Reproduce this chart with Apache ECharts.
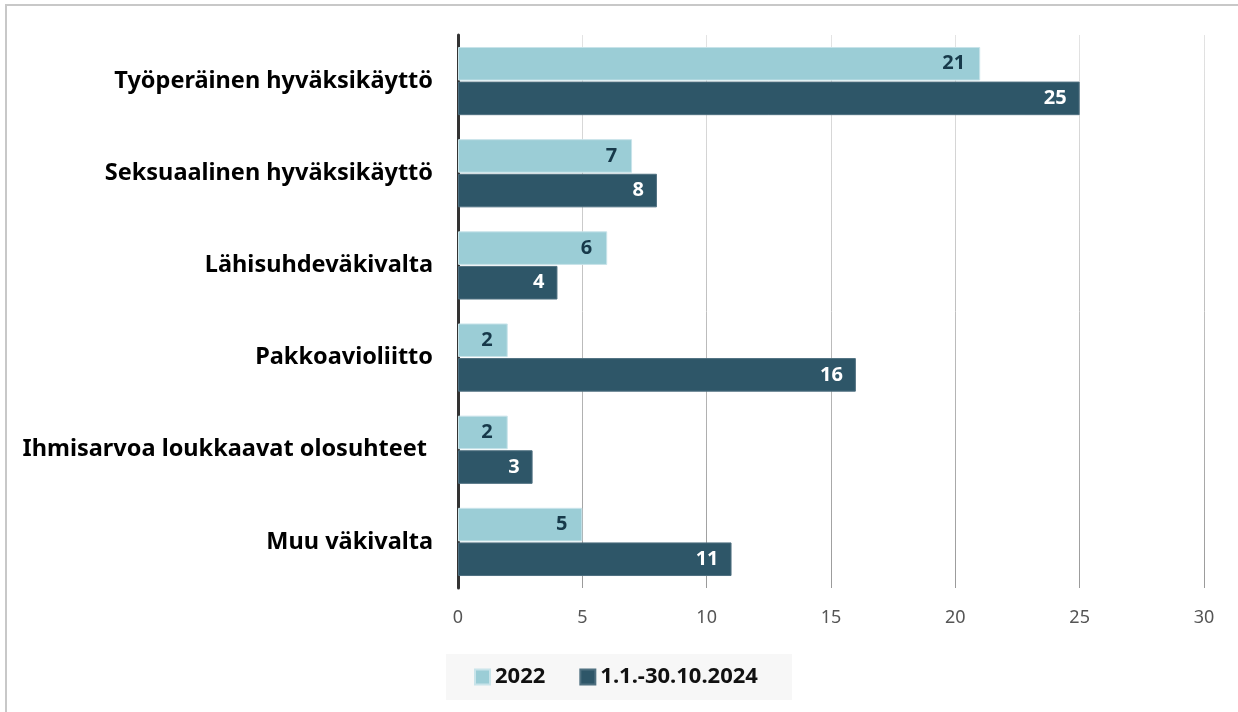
<!DOCTYPE html>
<html>
<head>
<meta charset="utf-8">
<script src="https://cdn.jsdelivr.net/npm/echarts@6/dist/echarts.min.js"></script>
<style>
  html, body { margin: 0; padding: 0; background: #fff; }
  #frame { position: absolute; left: 5px; top: 4px; width: 1233px; height: 708px;
           border-top: 2px solid #c8c8c8; border-left: 2px solid #c8c8c8; box-sizing: border-box; }
  #chart { position: absolute; left: 0; top: 0; width: 1238px; height: 712px; }
</style>
</head>
<body>
<div id="frame"></div>
<div id="chart"></div>
<script>
// Chart data
var categories = [
    'Työperäinen hyväksikäyttö',
    'Seksuaalinen hyväksikäyttö',
    'Lähisuhdeväkivalta',
    'Pakkoavioliitto',
    'Ihmisarvoa loukkaavat olosuhteet ',
    'Muu väkivalta'
];
var seriesNames = ['2022', '1.1.-30.10.2024'];
var values2022 = [21, 7, 6, 2, 2, 5];
var values2024 = [25, 8, 4, 16, 3, 11];
var xTicks = [0, 5, 10, 15, 20, 25, 30];

var chart = echarts.init(document.getElementById('chart'));

var labelFont = '"Noto Sans", sans-serif';

chart.setOption({
    color: ['#9bcdd6', '#2e5668'],
    textStyle: { fontFamily: labelFont },
    animation: false,

    grid: { left: 458, right: 34, top: 35, bottom: 124, containLabel: false },

    legend: {
        bottom: 12,
        left: 446,
        data: seriesNames,
        itemWidth: 15,
        itemHeight: 15,
        itemGap: 34,
        padding: [12, 34, 12, 28],
        backgroundColor: '#f7f7f7',
        icon: 'rect',
        textStyle: { fontSize: 22, fontWeight: 'bold', color: '#111', fontFamily: labelFont }
    },

    xAxis: {
        type: 'value',
        min: xTicks[0],
        max: xTicks[xTicks.length - 1],
        interval: 5,
        axisLine: { show: false },
        axisTick: { show: false },
        axisLabel: { color: '#555', fontSize: 18, margin: 21, fontFamily: '"Noto Sans", sans-serif' },
        splitLine: {
            lineStyle: {
                width: 1,
                color: {
                    type: 'linear', x: 0, y: 0, x2: 0, y2: 1,
                    colorStops: [{ offset: 0, color: '#e4e4e4' }, { offset: 1, color: '#9a9a9a' }]
                }
            }
        }
    },

    yAxis: {
        type: 'category',
        inverse: true,
        data: categories,
        axisLine: { lineStyle: { color: '#333', width: 3 } },
        axisTick: { show: false },
        axisLabel: { color: '#000', fontSize: 23.5, fontWeight: 'bold', margin: 25, fontFamily: labelFont }
    },

    series: [
        {
            name: seriesNames[0],
            type: 'bar',
            data: values2022,
            barGap: '3%',
            barCategoryGap: '26%',
            itemStyle: { color: '#9bcdd6', borderColor: '#c9e4ea', borderWidth: 1 },
            label: {
                show: true, position: 'insideRight', distance: 15,
                color: '#17394a', fontSize: 20, fontWeight: 'bold', fontFamily: labelFont
            }
        },
        {
            name: seriesNames[1],
            type: 'bar',
            data: values2024,
            itemStyle: { color: '#2e5668', borderColor: '#4f7080', borderWidth: 1 },
            label: {
                show: true, position: 'insideRight', distance: 13,
                color: '#fff', fontSize: 20, fontWeight: 'bold', fontFamily: labelFont
            }
        }
    ]
});
</script>
</body>
</html>
